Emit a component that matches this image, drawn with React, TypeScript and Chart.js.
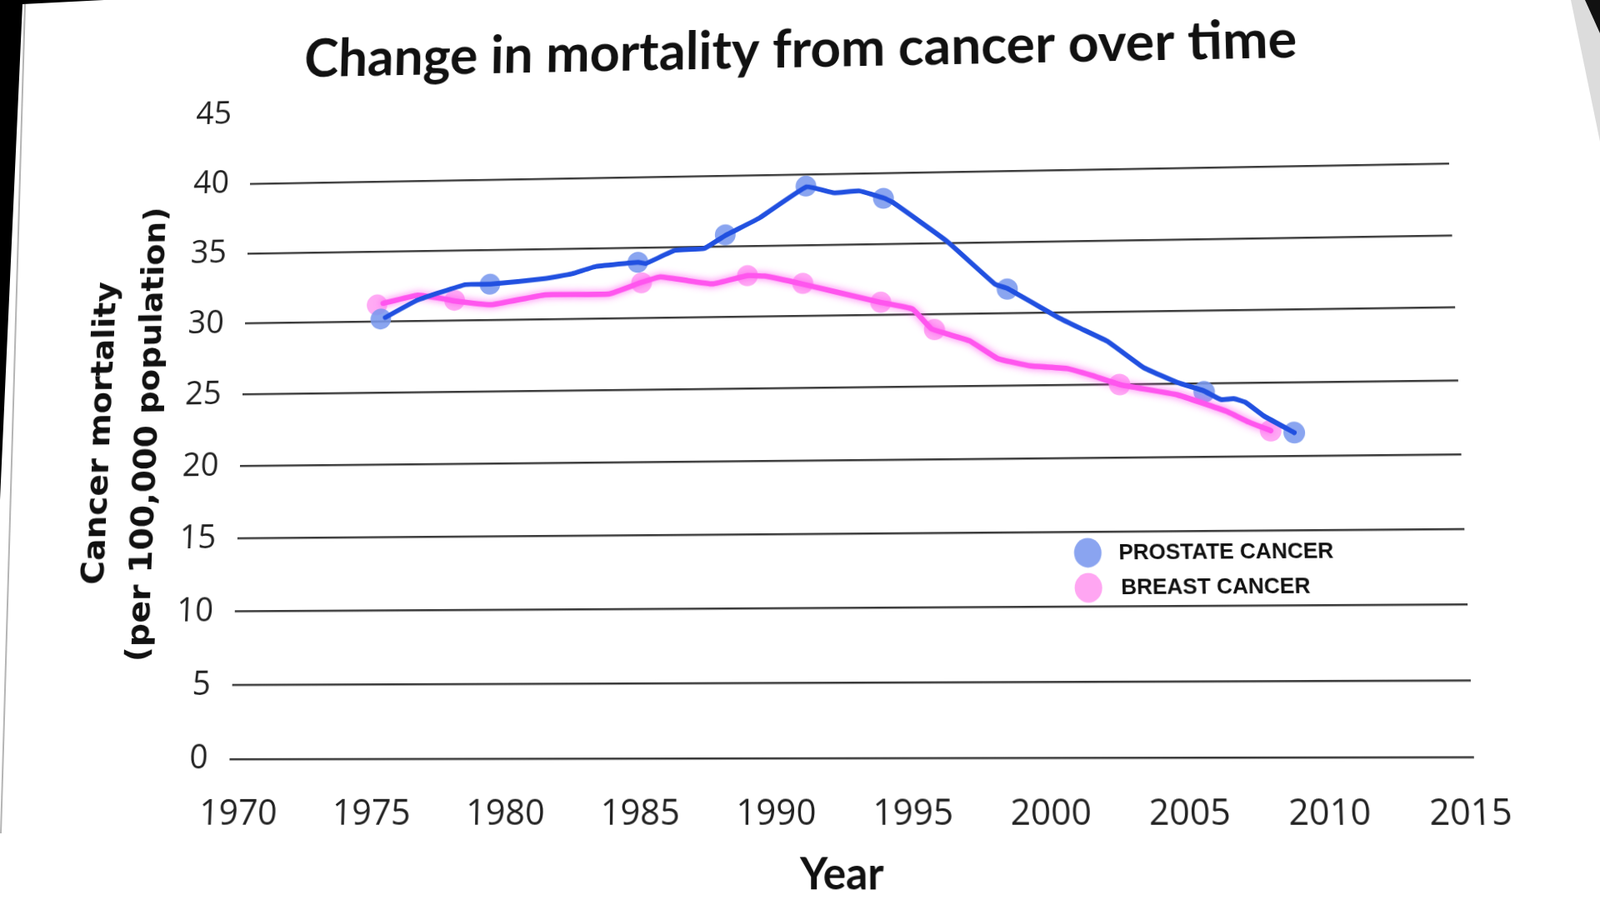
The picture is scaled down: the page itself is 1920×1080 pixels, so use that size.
import React, { useEffect, useRef } from "react";
import { Chart, registerables } from "chart.js";

Chart.register(...registerables);

// ---------- data ----------
const chartTitle = "Change in mortality from cancer over time";
const xAxisTitle = "Year";
const yAxisTitle = ["Cancer mortality", "(per 100,000 population)"];
const xTickValues = [1970, 1975, 1980, 1985, 1990, 1995, 2000, 2005, 2010, 2015];
const yTickValues = [0, 5, 10, 15, 20, 25, 30, 35, 40, 45];
const seriesNames = ["PROSTATE CANCER", "BREAST CANCER"];

// traced line (prostate)
const prostateYears = [1975.03, 1976.26, 1978.09, 1979.06, 1981.15, 1982.18, 1983.1, 1984.34, 1984.72, 1985.0, 1986.11, 1987.22, 1988.03, 1989.33, 1991.12, 1992.17, 1993.13, 1994.08, 1994.4, 1996.43, 1998.22, 1998.67, 2000.59, 2001.33, 2002.36, 2003.69, 2004.92, 2005.9, 2006.51, 2006.98, 2007.4, 2008.07, 2009.16];
const prostateValues = [30.3, 31.5, 32.55, 32.55, 32.9, 33.2, 33.7, 33.9, 33.95, 33.85, 34.75, 34.85, 35.75, 36.95, 39.1, 38.65, 38.75, 38.2, 37.9, 35.1, 32.05, 31.75, 29.65, 28.95, 28.0, 26.15, 25.1, 24.5, 23.9, 23.95, 23.7, 22.75, 21.6];
// data markers (prostate)
const prostateMarkerYears = [1974.86, 1979.04, 1984.7, 1988.03, 1991.1, 1994.04, 1998.67, 2005.9, 2009.16];
const prostateMarkerValues = [30.2, 32.55, 33.95, 35.8, 39.15, 38.2, 31.7, 24.45, 21.6];

// traced line (breast)
const breastYears = [1974.93, 1976.26, 1977.17, 1977.68, 1979.11, 1981.15, 1983.61, 1984.8, 1985.56, 1986.46, 1987.57, 1988.88, 1989.53, 1990.97, 1993.9, 1995.11, 1995.82, 1996.38, 1997.23, 1998.27, 1999.51, 2000.84, 2001.77, 2002.8, 2004.92, 2006.7, 2007.5, 2008.3];
const breastValues = [31.3, 31.85, 31.6, 31.4, 31.1, 31.75, 31.75, 32.5, 32.9, 32.65, 32.35, 32.9, 32.85, 32.25, 30.9, 30.4, 29.0, 28.65, 28.15, 26.9, 26.35, 26.15, 25.65, 25.0, 24.25, 23.1, 22.35, 21.75];
// data markers (breast)
const breastMarkerYears = [1974.7, 1977.69, 1984.85, 1988.88, 1990.98, 1993.92, 1995.93, 2002.79, 2008.3];
const breastMarkerValues = [31.2, 31.45, 32.5, 32.9, 32.3, 30.9, 28.95, 25.0, 21.75];

// ---------- styling ----------
const BLUE_LINE = "#2150E0";
const BLUE_MARK = "rgba(122,152,238,0.88)";
const PINK_LINE = "#FF55EE";
const PINK_MARK = "rgba(255,158,242,0.88)";

function fitFontSize(text: string, font: string, target: number): number {
  const c = document.createElement("canvas");
  const ctx = c.getContext("2d")!;
  ctx.font = font.replace("{S}", "100px");
  const w = ctx.measureText(text).width;
  return (100 * target) / w;
}

function solveHomography(src: number[][], dst: number[][]): number[] {
  const A: number[][] = [];
  for (let i = 0; i < 4; i++) {
    const [x, y] = src[i];
    const [u, v] = dst[i];
    A.push([x, y, 1, 0, 0, 0, -u * x, -u * y, u]);
    A.push([0, 0, 0, x, y, 1, -v * x, -v * y, v]);
  }
  const n = 8;
  for (let c = 0; c < n; c++) {
    let p = c;
    for (let r = c + 1; r < n; r++) if (Math.abs(A[r][c]) > Math.abs(A[p][c])) p = r;
    const tmp = A[c];
    A[c] = A[p];
    A[p] = tmp;
    for (let r = 0; r < n; r++) {
      if (r === c) continue;
      const f = A[r][c] / A[c][c];
      for (let k = c; k <= n; k++) A[r][k] -= f * A[c][k];
    }
  }
  return A.map((row, i) => row[n] / row[i]);
}

export default function App() {
  const canvasRef = useRef<HTMLCanvasElement | null>(null);

  useEffect(() => {
    const canvas = canvasRef.current;
    if (!canvas) return;

    const titleSize = fitFontSize(chartTitle, "700 {S} Lato", 1250);
    const yTitleSize = fitFontSize(yAxisTitle[1], "700 {S} 'DejaVu Sans'", 560);
    const xTitleSize = fitFontSize(xAxisTitle, "700 {S} Lato", 100);

    const titlePlugin = {
      id: "slideTitle",
      afterDraw(chart: any) {
        const { ctx, chartArea } = chart;
        ctx.save();
        ctx.font = `700 ${titleSize}px Lato`;
        ctx.fillStyle = "#111";
        ctx.textAlign = "center";
        ctx.textBaseline = "alphabetic";
        ctx.fillText(chartTitle, chartArea.left + (chartArea.right - chartArea.left) * 0.4615, 73);
        ctx.restore();
      },
    };

    const legendPlugin = {
      id: "insideLegend",
      afterDatasetsDraw(chart: any) {
        const { ctx } = chart;
        const xs = chart.scales.x;
        const ys = chart.scales.y;
        const cx = xs.getPixelForValue(2001.5);
        const rows = [
          { v: 13.6, label: seriesNames[0], color: "rgba(138,164,240,1)" },
          { v: 11.25, label: seriesNames[1], color: "rgba(255,166,242,1)" },
        ];
        ctx.save();
        ctx.font = `700 26px 'Liberation Sans', Arial, sans-serif`;
        ctx.textBaseline = "middle";
        ctx.textAlign = "left";
        rows.forEach((r, i) => {
          const cy = ys.getPixelForValue(r.v);
          ctx.beginPath();
          ctx.ellipse(cx, cy, 16.5, 17.5, 0, 0, Math.PI * 2);
          ctx.fillStyle = r.color;
          ctx.fill();
          ctx.fillStyle = "#111";
          ctx.fillText(r.label, cx + 37 + i * 2, cy + 1);
        });
        ctx.restore();
      },
    };

    const glowPlugin = {
      id: "pinkGlow",
      beforeDatasetDraw(chart: any, args: any) {
        if (args.index === 1) {
          const ctx = chart.ctx;
          ctx.save();
          ctx.shadowColor = "rgba(255,80,240,0.85)";
          ctx.shadowBlur = 10;
        }
      },
      afterDatasetDraw(chart: any, args: any) {
        if (args.index === 1) chart.ctx.restore();
      },
    };

    const chart = new Chart(canvas, {
      type: "line",
      data: {
        datasets: [
          {
            label: seriesNames[0],
            data: prostateYears.map((x, i) => ({ x, y: prostateValues[i] })),
            borderColor: BLUE_LINE,
            borderWidth: 6,
            pointRadius: 0,
            tension: 0.1,
            borderJoinStyle: "round",
            borderCapStyle: "round",
            order: 1,
          },
          {
            label: seriesNames[1],
            data: breastYears.map((x, i) => ({ x, y: breastValues[i] })),
            borderColor: PINK_LINE,
            borderWidth: 6.5,
            pointRadius: 0,
            tension: 0.1,
            borderJoinStyle: "round",
            borderCapStyle: "round",
            order: 2,
          },
          {
            label: seriesNames[0] + " points",
            data: prostateMarkerYears.map((x, i) => ({ x, y: prostateMarkerValues[i] })),
            showLine: false,
            pointRadius: 13,
            pointBorderWidth: 0,
            pointBackgroundColor: BLUE_MARK,
            borderColor: BLUE_MARK,
            order: 3,
          },
          {
            label: seriesNames[1] + " points",
            data: breastMarkerYears.map((x, i) => ({ x, y: breastMarkerValues[i] })),
            showLine: false,
            pointRadius: 13,
            pointBorderWidth: 0,
            pointBackgroundColor: PINK_MARK,
            borderColor: PINK_MARK,
            order: 4,
          },
        ],
      },
      options: {
        animation: false,
        responsive: false,
        devicePixelRatio: 1,
        layout: { padding: { left: 0, right: 151, top: 120, bottom: 0 } },
        plugins: {
          legend: { display: false },
          tooltip: { enabled: false },
          title: { display: false },
        },
        scales: {
          x: {
            type: "linear",
            min: 1969.6,
            max: 2015.2,
            afterBuildTicks: (s: any) => {
              s.ticks = xTickValues.map((v) => ({ value: v }));
            },
            afterFit: (s: any) => {
              s.height = 169;
            },
            grid: { display: false, drawTicks: false },
            border: { display: false },
            ticks: {
              font: { family: "'Open Sans'", size: 42 },
              color: "#222",
              padding: 40,
              maxRotation: 0,
              autoSkip: false,
              callback: (v: any) => String(v),
            },
            title: {
              display: true,
              text: xAxisTitle,
              font: { family: "Lato", weight: "bold", size: xTitleSize },
              color: "#111",
              padding: { top: 0, bottom: 4 },
            },
          },
          y: {
            type: "linear",
            min: 0,
            max: 45,
            afterBuildTicks: (s: any) => {
              s.ticks = yTickValues.map((v) => ({ value: v }));
            },
            afterFit: (s: any) => {
              s.width = 275;
            },
            grid: {
              color: (c: any) => (c.tick && c.tick.value === 45 ? "rgba(0,0,0,0)" : "#3a3a3a"),
              lineWidth: 2.5,
              drawTicks: false,
            },
            border: { display: false },
            ticks: {
              font: { family: "'Open Sans'", size: 40 },
              color: "#222",
              padding: 27,
              callback: (v: any) => String(v),
            },
            title: {
              display: true,
              text: yAxisTitle,
              font: { family: "'DejaVu Sans'", weight: "bold", size: yTitleSize, lineHeight: 1.5 },
              color: "#111",
              padding: { top: 68, bottom: 0 },
            },
          },
        },
      },
      plugins: [titlePlugin, legendPlugin, glowPlugin],
    } as any);

    // photographed-slide perspective: map the flat plot corners onto the photographed ones
    const xs: any = chart.scales.x;
    const ys: any = chart.scales.y;
    const l = xs.getPixelForValue(1969.6);
    const r = xs.getPixelForValue(2015.2);
    const b = ys.getPixelForValue(0);
    const t = ys.getPixelForValue(40);
    const H = solveHomography(
      [[l, b], [r, b], [l, t], [r, t]],
      [[275.5, 911], [1769, 908.6], [300, 220.4], [1739, 196]]
    );
    const [a, bb, c, d, e, f, g, h] = H;
    canvas.style.transformOrigin = "0 0";
    canvas.style.transform = `matrix3d(${a},${d},0,${g},${bb},${e},0,${h},0,0,1,0,${c},${f},0,1)`;

    return () => {
      chart.destroy();
    };
  }, []);

  return (
    <div
      style={{
        position: "fixed",
        left: 0,
        top: 0,
        width: 1920,
        height: 1080,
        overflow: "hidden",
        background: "#fff",
      }}
    >
      <canvas
        ref={canvasRef}
        width={1920}
        height={1080}
        style={{ position: "absolute", left: 0, top: 0, width: 1920, height: 1080 }}
      />
      <svg
        width={1920}
        height={1080}
        style={{ position: "absolute", left: 0, top: 0, pointerEvents: "none" }}
      >
        <polygon points="0,0 125,0 27,5 0,600" fill="#000" />
        <line x1={30} y1={5} x2={1} y2={1000} stroke="#b5b5b5" strokeWidth={2} />
        <polygon points="1885,0 1920,0 1920,170" fill="#9a9a9a" opacity={0.35} />
        <polygon points="1902,0 1920,0 1920,40" fill="#111" />
      </svg>
    </div>
  );
}
